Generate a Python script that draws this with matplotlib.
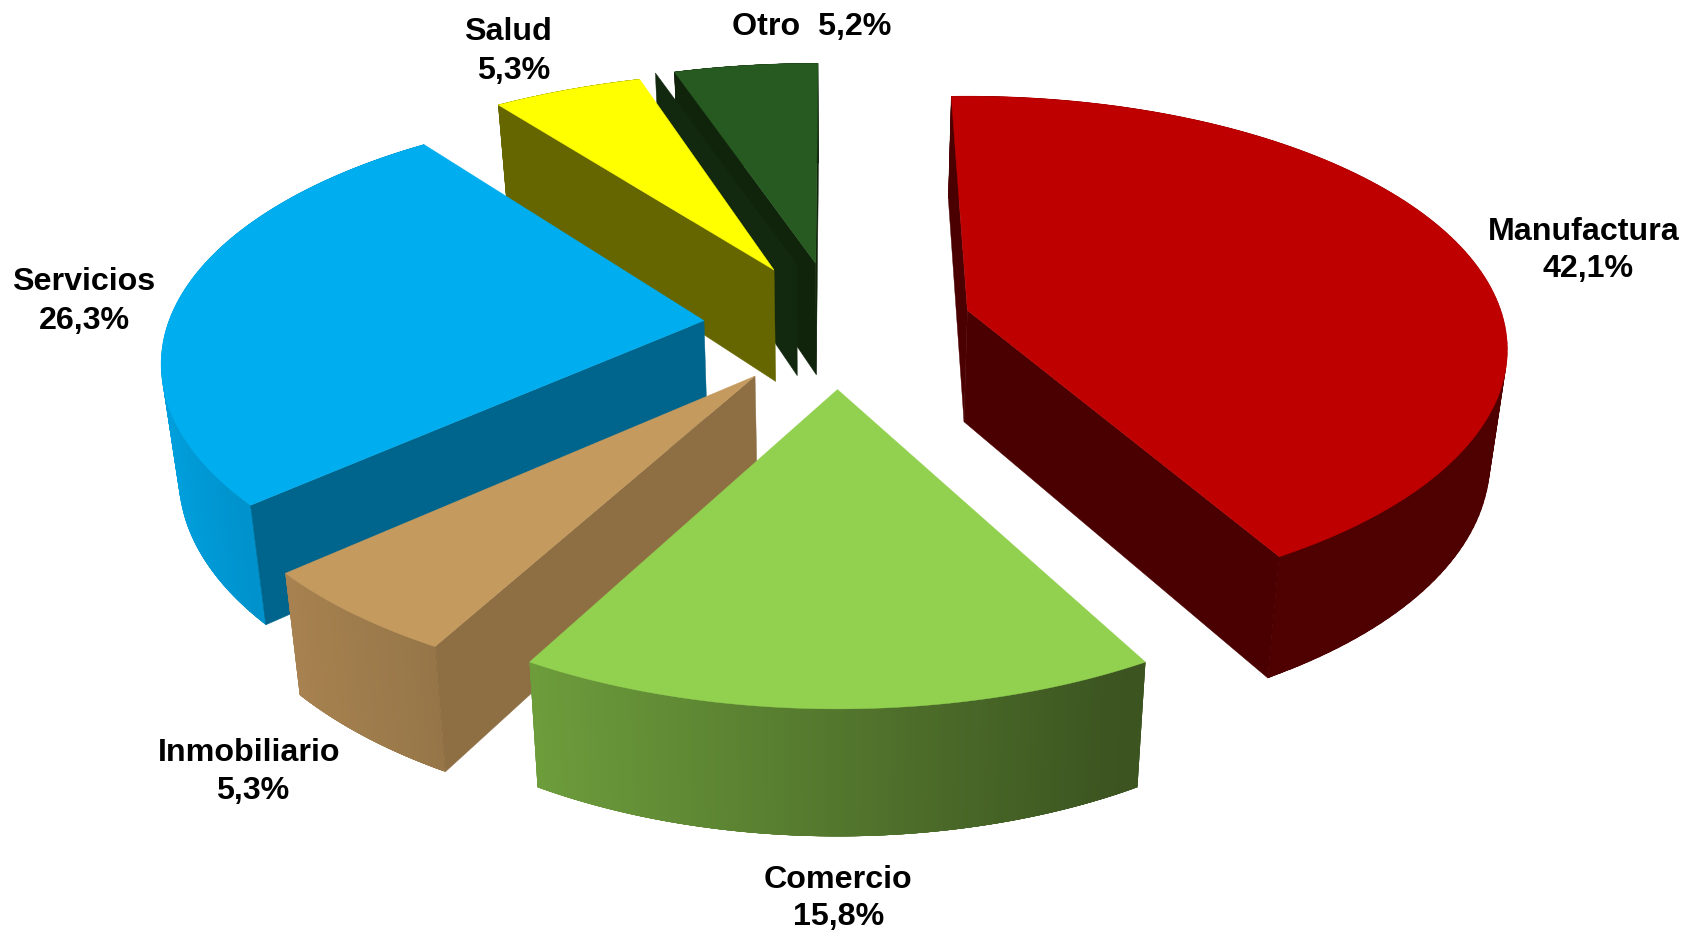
import matplotlib
matplotlib.use('Agg')
import matplotlib.pyplot as plt
from matplotlib.collections import PolyCollection
from matplotlib.colors import to_rgb
from matplotlib.patches import Polygon
import numpy as np

# Data
categories = ['Manufactura', 'Comercio', 'Inmobiliario', 'Servicios', 'Salud', 'Otro']
shares = [42.1, 15.8, 5.3, 26.3, 5.3, 5.2]

# Colours per slice: top, radial wall, outer wall left, outer wall right
top_colors = ['#BE0000', '#92D050', '#C49A5F', '#00AEEF', '#FFFF00', '#265A20']
wall_colors = ['#4A0000', '#4A0000', '#8E6E43', '#00658C', '#666600', '#10240C']
arc_left = ['#4F0000', '#6E9E3C', '#A88250', '#00A0DE', '#666600', '#10240C']
arc_right = ['#4F0000', '#3B5320', '#967648', '#0078AA', '#666600', '#10240C']

# Shape of each slice in pixels, the picture is a pie seen in perspective
rx = [533.5, 532, 548, 535, 541, 532]
ry = [247.5, 255, 254, 249, 238, 240]
persp = [0.155, 0.2016, 0.2016, 0.17, 0.2, 0.2]
turn = [-2, 0, 0.3, 1.3, 1.5, 0.3]

CX, CY = 837.5, 326
EXPLODE_X, EXPLODE_Y = 134, 63.5
HEIGHT = 111.4
BOTTOM_SHRINK = 0.974
GHOST_SHIFT = (-19, 1)
GHOST_COLOR = '#12290F'

# Label positions (name line, value line)
name_x = [1584, 838, 249, 84, 508]
name_y = [240, 887.5, 761, 290.5, 40.5]
value_x = [1588, 839, 253, 84.5, 514]
value_y = [276.5, 925, 799, 328.5, 78.5]
OTRO_X, OTRO_Y = 812, 35

# drawn from the back to the front
draw_order = [5, 4, 3, 0, 2, 1]


def point(t, r, i, apex):
    # r is 0 at the apex and 1 on the rim, returns top and bottom screen points
    s = 1 / (1 + persp[i] * r * np.cos(t))
    x = apex[0] + rx[i] * r * np.sin(t) * s
    y = apex[1] - ry[i] * r * np.cos(t) * s
    # the bottom plane is a bit smaller, it shrinks to the middle of the picture
    bottom = (CX + (x - CX) * BOTTOM_SHRINK, y + HEIGHT * s ** 0.6)
    return (x, y), bottom


def radial_wall(ax, t, i, apex, color, shift=(0, 0)):
    out_top, out_bot = point(t, 1, i, apex)
    in_top, in_bot = point(t, 0, i, apex)
    pts = np.array([out_top, in_top, in_bot, out_bot]) + np.array(shift)
    ax.add_patch(Polygon(pts, closed=True, facecolor=color, edgecolor=color, linewidth=0.3))


def pct(v):
    return f'{v:.1f}'.replace('.', ',') + '%'


fig = plt.figure(figsize=(16.96, 9.31), dpi=100)
ax = fig.add_axes([0, 0, 1, 1])
ax.set_xlim(0, 1696)
ax.set_ylim(931, 0)
ax.axis('off')

plt.rcParams['font.family'] = ['Liberation Sans', 'DejaVu Sans']

edges = np.radians(np.concatenate([[0], np.cumsum(shares)]) * 3.6)

for i in draw_order:
    mid = (edges[i] + edges[i + 1]) / 2
    apex = (CX + EXPLODE_X * np.sin(mid), CY - EXPLODE_Y * np.cos(mid))
    t0 = edges[i] + np.radians(turn[i])
    t1 = edges[i + 1] + np.radians(turn[i])
    ts = np.linspace(t0, t1, 120)

    tops = []
    bots = []
    for t in ts:
        a, b = point(t, 1, i, apex)
        tops.append(a)
        bots.append(b)
    tops = np.array(tops)
    bots = np.array(bots)

    # outer wall made of thin strips, this gives the colour gradient
    # strips overlap and run left to right so no seams show between them
    xs = tops[:, 0]
    frac = (xs - xs.min()) / (xs.max() - xs.min())
    left = np.array(to_rgb(arc_left[i]))
    right = np.array(to_rgb(arc_right[i]))
    order = np.argsort(xs)
    strips = []
    strip_colors = []
    for k in range(len(ts) - 1):
        j = order[k]
        j2 = min(j + 3, len(ts) - 1)
        j1 = max(j - 3, 0)
        strips.append([tops[j1], tops[j2], bots[j2], bots[j1]])
        strip_colors.append(left + (right - left) * frac[j])
    ax.add_collection(PolyCollection(strips, facecolors=strip_colors, edgecolors='none', linewidths=0))

    # only the radial walls turned to the viewer
    if np.sin(t1) > 1e-6:
        radial_wall(ax, t1, i, apex, wall_colors[i])
    if np.sin(t0) < 1e-6:
        radial_wall(ax, t0, i, apex, wall_colors[i])
        if categories[i] == 'Otro':
            radial_wall(ax, t0, i, apex, GHOST_COLOR, GHOST_SHIFT)

    in_top = point(t0, 0, i, apex)[0]
    ax.add_patch(Polygon(np.vstack([tops, [in_top]]), closed=True, facecolor=top_colors[i],
                         edgecolor=top_colors[i], linewidth=0.3))

# Labels
for i in range(5):
    ax.text(name_x[i], name_y[i], categories[i], ha='center', va='baseline', fontsize=23.2,
            fontweight='bold', color='black')
    ax.text(value_x[i], value_y[i], pct(shares[i]), ha='center', va='baseline', fontsize=23.2,
            fontweight='bold', color='black')
ax.text(OTRO_X, OTRO_Y, categories[5] + '  ' + pct(shares[5]), ha='center', va='baseline',
        fontsize=23.2, fontweight='bold', color='black')

fig.savefig('out.png', dpi=100, facecolor='white')
